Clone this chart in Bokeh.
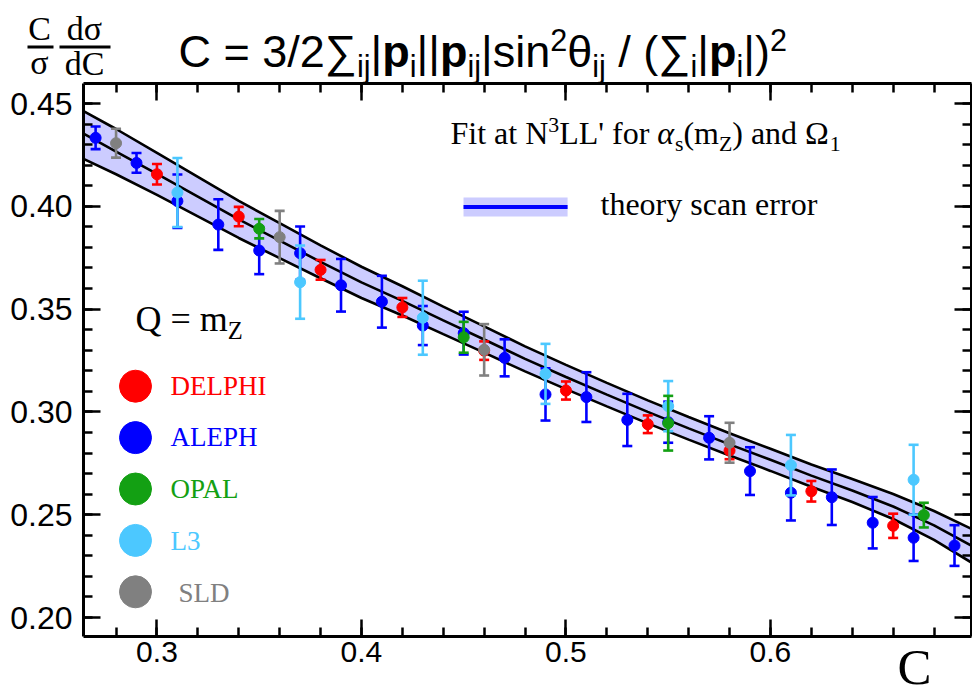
from bokeh.plotting import figure
from bokeh.models import (ColumnDataSource, LinearAxis, FixedTicker, Label,
                          BoxAnnotation, Range1d, NumeralTickFormatter,
                          CustomLabelingPolicy)
from bokeh.embed import file_html
from bokeh.resources import INLINE

# ---------------- data ----------------
band_C = [0.2641, 0.28, 0.30, 0.32, 0.34, 0.36, 0.38, 0.40, 0.42, 0.44, 0.46, 0.48,
          0.50, 0.52, 0.54, 0.56, 0.58, 0.60, 0.62, 0.64, 0.66, 0.68, 0.70]
band_mid = [0.4353, 0.4266, 0.4158, 0.4047, 0.3936, 0.3833, 0.3730, 0.3630, 0.3540,
            0.3445, 0.3352, 0.3258, 0.3170, 0.3084, 0.3000, 0.2920, 0.2842, 0.2767,
            0.2690, 0.2618, 0.2540, 0.2448, 0.2340]
band_up = [0.4463, 0.4376, 0.4260, 0.4143, 0.4026, 0.3918, 0.3810, 0.3706, 0.3611,
           0.3512, 0.3416, 0.3319, 0.3229, 0.3141, 0.3056, 0.2975, 0.2896, 0.2821,
           0.2744, 0.2674, 0.2601, 0.2518, 0.2423]
band_lo = [0.4231, 0.4156, 0.4056, 0.3951, 0.3846, 0.3748, 0.3650, 0.3554, 0.3469,
           0.3378, 0.3288, 0.3197, 0.3111, 0.3027, 0.2944, 0.2865, 0.2788, 0.2713,
           0.2636, 0.2562, 0.2479, 0.2378, 0.2257]

aleph_C = [0.27, 0.29, 0.31, 0.33, 0.35, 0.37, 0.39, 0.41, 0.43, 0.45, 0.47, 0.49,
           0.51, 0.53, 0.55, 0.57, 0.59, 0.61, 0.63, 0.65, 0.67, 0.69]
aleph_y = [0.4333, 0.4211, 0.4025, 0.3911, 0.3785, 0.3772, 0.3616, 0.3536, 0.3420,
           0.3383, 0.3263, 0.3085, 0.3072, 0.2961, 0.2950, 0.2874, 0.2712, 0.2607,
           0.2585, 0.2461, 0.2388, 0.2350]
aleph_e = [0.0055, 0.0048, 0.0130, 0.0123, 0.0115, 0.0130, 0.0128, 0.0126, 0.0095,
           0.0104, 0.0090, 0.0127, 0.0121, 0.0127, 0.0100, 0.0105, 0.0116, 0.0135,
           0.0135, 0.0125, 0.0113, 0.0099]

delphi_C = [0.30, 0.34, 0.38, 0.42, 0.46, 0.50, 0.54, 0.58, 0.62, 0.66]
delphi_y = [0.4156, 0.3950, 0.3691, 0.3508, 0.3298, 0.3104, 0.2940, 0.2812, 0.2614, 0.2446]
delphi_e = [0.0050, 0.0047, 0.0048, 0.0046, 0.0045, 0.0044, 0.0043, 0.0042, 0.0050, 0.0059]

l3_C = [0.31, 0.37, 0.43, 0.49, 0.55, 0.61, 0.67]
l3_y = [0.4067, 0.3631, 0.3458, 0.3185, 0.3028, 0.2741, 0.2670]
l3_e = [0.0168, 0.0178, 0.0180, 0.0146, 0.0122, 0.0147, 0.0170]

opal_C = [0.35, 0.45, 0.55, 0.675]
opal_y = [0.3891, 0.3363, 0.2945, 0.2498]
opal_e = [0.0047, 0.0075, 0.0133, 0.0060]

sld_C = [0.28, 0.36, 0.46, 0.58]
sld_y = [0.4307, 0.3850, 0.3302, 0.2850]
sld_e = [0.0070, 0.0128, 0.0125, 0.0097]

experiments = ["DELPHI", "ALEPH", "OPAL", "L3", "SLD"]
exp_colors = {"DELPHI": "#ff0000", "ALEPH": "#0000ff", "OPAL": "#13a013",
              "L3": "#4cc8ff", "SLD": "#808080"}

x_major = [0.3, 0.4, 0.5, 0.6]
x_minor = [round(0.28 + 0.02 * i, 2) for i in range(22)]
y_major = [0.20, 0.25, 0.30, 0.35, 0.40, 0.45]
y_minor = [round(0.20 + 0.01 * i, 2) for i in range(26)]

# ---------------- layout ----------------
W, H = 972, 697
X_LO, X_HI = 0.2641, 0.6985     # plot box in data units
Y_LO, Y_HI = 0.19076, 0.4597

# the figure frame spans the whole canvas; the boxed axes sit at fixed locations
p = figure(width=W, height=H, output_backend="svg", toolbar_location=None,
           x_range=Range1d(0.22349, 0.6988), y_range=Range1d(0.16109, 0.50010),
           x_axis_location=None, y_axis_location=None,
           min_border_left=0, min_border_right=0, min_border_top=0,
           min_border_bottom=0)
p.grid.visible = False
p.outline_line_color = None
p.background_fill_color = "white"

no_labels = CustomLabelingPolicy(code="""
try {
  const out = indices.clone()
  for (let i = 0; i < out.size; i++) out.unset(i)
  return out
} catch (e) {
  return indices
}
""")


def style_axis(ax, labels, size):
    ax.axis_line_width = 3
    ax.axis_line_color = "black"
    ax.major_tick_in = 17
    ax.major_tick_out = 0
    ax.minor_tick_in = 9
    ax.minor_tick_out = 0
    ax.major_tick_line_width = 2.5
    ax.minor_tick_line_width = 2.5
    ax.major_tick_line_color = "black"
    ax.minor_tick_line_color = "black"
    if labels:
        ax.major_label_text_font = "Liberation Sans"
        ax.major_label_text_font_size = size
        ax.major_label_text_color = "black"
    else:
        ax.major_label_policy = no_labels
        ax.major_label_text_font_size = "2px"
        ax.major_label_standoff = 0


xb = LinearAxis(ticker=FixedTicker(ticks=x_major, minor_ticks=x_minor),
                formatter=NumeralTickFormatter(format="0.0"),
                fixed_location=Y_LO, bounds=(X_LO, X_HI))
style_axis(xb, True, "30px")
xb.major_label_standoff = 6
xt = LinearAxis(ticker=FixedTicker(ticks=x_major, minor_ticks=x_minor),
                fixed_location=Y_HI, bounds=(X_LO, X_HI))
style_axis(xt, False, None)
yl = LinearAxis(ticker=FixedTicker(ticks=y_major, minor_ticks=y_minor),
                formatter=NumeralTickFormatter(format="0.00"),
                fixed_location=X_LO, bounds=(Y_LO, Y_HI))
style_axis(yl, True, "32px")
yl.major_label_standoff = 11
yr = LinearAxis(ticker=FixedTicker(ticks=y_major, minor_ticks=y_minor),
                fixed_location=X_HI, bounds=(Y_LO, Y_HI))
style_axis(yr, False, None)
p.add_layout(xb, "below")
p.add_layout(xt, "above")
p.add_layout(yl, "left")
p.add_layout(yr, "right")

# theory band
p.varea(x=band_C, y1=band_lo, y2=band_up, fill_color="#ccccff")
for arr in (band_up, band_mid, band_lo):
    p.line(band_C, arr, line_color="black", line_width=2.6)

# data points
data = {"ALEPH": (aleph_C, aleph_y, aleph_e), "DELPHI": (delphi_C, delphi_y, delphi_e),
        "L3": (l3_C, l3_y, l3_e), "OPAL": (opal_C, opal_y, opal_e),
        "SLD": (sld_C, sld_y, sld_e)}
for name in ["ALEPH", "DELPHI", "L3", "OPAL", "SLD"]:
    cx, cy, ce = data[name]
    col = exp_colors[name]
    src = ColumnDataSource(dict(x=cx, y=cy,
                                lo=[a - b for a, b in zip(cy, ce)],
                                hi=[a + b for a, b in zip(cy, ce)]))
    p.segment(x0="x", y0="lo", x1="x", y1="hi", source=src, line_color=col, line_width=2.6)
    p.scatter(x="x", y="lo", source=src, marker="dash", size=10, line_color=col, line_width=2.6)
    p.scatter(x="x", y="hi", source=src, marker="dash", size=10, line_color=col, line_width=2.6)
    p.scatter(x="x", y="y", source=src, marker="circle", size=11, fill_color=col, line_color=col)

# experiment legend (markers in data space)
LEG_X = 0.2895
LEG_Y = [0.3125, 0.2875, 0.2625, 0.2375, 0.2125]
p.scatter(x=[LEG_X] * 5, y=LEG_Y, size=32, marker="circle",
          fill_color=[exp_colors[e] for e in experiments],
          line_color=[exp_colors[e] for e in experiments])

# theory legend swatch
p.quad(left=[0.4499], right=[0.5008], bottom=[0.3950], top=[0.4043],
       fill_color="#ccccff", line_color=None)
p.segment(x0=[0.4499], y0=[0.39965], x1=[0.5008], y1=[0.39965],
          line_color="#0000ff", line_width=4)

# ---------------- text helpers (canvas pixels, top-left origin) ----------------
SANS = {' ': .278, '=': .584, '3': .556, '/': .278, '2': .556, 'C': .722, '|': .26,
        'p': .556, 'i': .222, 'j': .222, 's': .5, 'n': .556, '(': .333, ')': .333,
        'θ': .556, '∑': .713}
SANS_B = {'p': .611}
SERIF = {'F': .556, 'i': .278, 't': .278, ' ': .25, 'a': .444, 'N': .722, '3': .5,
         'L': .611, "'": .18, 'f': .333, 'o': .5, 'r': .333, 'α': .55, 's': .389,
         '(': .333, 'm': .778, 'Z': .611, ')': .333, 'n': .5, 'd': .5, 'Ω': .77,
         '1': .5, 'Q': .722, '=': .564, 'σ': .55, 'C': .667}
BASE_SHIFT = 0.36   # renderer places alphabetic text this many ems lower


def lab(x, base, text, font, size, color="black", style="normal", align="left"):
    p.add_layout(Label(x=x, y=H - (base - BASE_SHIFT * size), x_units="screen",
                       y_units="screen", text=text, text_font=font,
                       text_font_size=f"{size:.1f}px", text_font_style=style,
                       text_color=color, text_baseline="alphabetic", text_align=align))


def rich(pieces, x, base, font, size, color="black"):
    cx = x
    table = SERIF if "Serif" in font else SANS
    for txt, kind in pieces:
        s, dy, style = size, 0.0, "normal"
        if kind == "sub":
            s, dy = size * 0.68, size * 0.22
        elif kind == "sup":
            s, dy = size * 0.68, -size * 0.36
        elif kind == "b":
            style = "bold"
        elif kind == "it":
            style = "italic"
        tb = SANS_B if (style == "bold" and table is SANS) else table
        # leading blanks are collapsed by SVG text, so advance past them instead
        lead = len(txt) - len(txt.lstrip(" "))
        cx += lead * table[" "] * s
        body = txt.lstrip(" ")
        if body.strip():
            lab(cx, base + dy, body.rstrip(" "), font, s, color, style)
        cx += sum(tb.get(ch, table.get(ch, .5)) for ch in body) * s


SANSF = "Liberation Sans"
SERIFF = "Liberation Serif"

# title
rich([("C = 3/2", "n"), ("∑", "n"), ("ij", "sub"), ("|", "n"), ("p", "b"), ("i", "sub"),
      ("||", "n"), ("p", "b"), ("ij", "sub"), ("|sin", "n"), ("2", "sup"), ("θ", "n"),
      ("ij", "sub"), (" / (", "n"), ("∑", "n"), ("i", "sub"), ("|", "n"), ("p", "b"),
      ("i", "sub"), ("|)", "n"), ("2", "sup")], 178, 67, SANSF, 45)

# y label: (C/σ)(dσ/dC)
lab(39, 40, "C", SERIFF, 34, align="center")
lab(39, 74, "σ", SERIFF, 34, align="center")
lab(84, 40, "dσ", SERIFF, 34, align="center")
lab(84, 75, "dC", SERIFF, 34, align="center")
for l, r in ((27, 53), (59, 110)):
    p.add_layout(BoxAnnotation(left=l, right=r, bottom=H - 48, top=H - 45,
                               left_units="screen", right_units="screen",
                               bottom_units="screen", top_units="screen",
                               fill_color="black", fill_alpha=1, line_color=None))

# x label
lab(897, 685, "C", SERIFF, 51)

# in-plot annotations
rich([("Fit at N", "n"), ("3", "sup"), ("LL' for ", "n"), ("α", "it"), ("s", "sub"),
      ("(m", "n"), ("Z", "sub"), (") and Ω", "n"), ("1", "sub")], 450, 144, SERIFF, 32)
lab(600, 215, "theory scan error", SERIFF, 32)
rich([("Q = m", "n"), ("Z", "sub")], 135, 331, SERIFF, 36)

leg_base = {"DELPHI": (170, 395), "ALEPH": (170, 446), "OPAL": (170, 498),
            "L3": (170, 550), "SLD": (178, 602)}
for e in experiments:
    x0, b0 = leg_base[e]
    lab(x0, b0, e, SERIFF, 27, color=exp_colors[e])

open("out.html", "w").write(file_html(p, INLINE))
